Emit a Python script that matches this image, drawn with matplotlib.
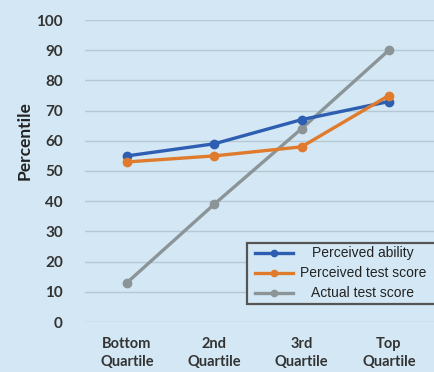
import matplotlib.pyplot as plt
from matplotlib.lines import Line2D
from matplotlib.patches import Rectangle
import numpy as np

quartiles = ['Bottom\nQuartile', '2nd\nQuartile', '3rd\nQuartile', 'Top\nQuartile']
perceived_ability = [55, 59, 67, 73]
perceived_test = [53, 55, 58, 75]
actual_test = [13, 39, 64, 90]
yticks = [0, 10, 20, 30, 40, 50, 60, 70, 80, 90, 100]
series_names = ['Perceived ability', 'Perceived test score', 'Actual test score']

bg = '#D3E8F4'
blue = '#2E5EB2'
orange = '#E07A2C'
gray = '#8B9497'
W, H = 435, 372

fig = plt.figure(figsize=(W / 100, H / 100), dpi=100, facecolor=bg)
ax = fig.add_axes([85 / W, 50 / H, 351 / W, 302 / H], facecolor=bg)

x = np.arange(len(quartiles))
ax.plot(x, actual_test, color=gray, lw=2.4, marker='o', ms=6, zorder=3)
ax.plot(x, perceived_ability, color=blue, lw=2.4, marker='o', ms=6, zorder=4)
ax.plot(x, perceived_test, color=orange, lw=2.4, marker='o', ms=6, zorder=5)

ax.set_xlim(-0.48, 3.54)
ax.set_ylim(0, 100)
ax.set_yticks(yticks)
ax.set_xticks(x)
ax.set_xticklabels(quartiles, fontfamily='Lato', fontweight='bold', fontsize=10.5,
                   color='#333333', linespacing=1.3)
ax.set_yticklabels([str(v) for v in yticks], fontfamily='Lato', fontweight='bold',
                   fontsize=11, color='#333333')
ax.tick_params(length=0, pad=16)
ax.tick_params(axis='x', pad=11)
ax.grid(axis='y', color='#B5C8D4', lw=1)
ax.set_axisbelow(True)
for s in ax.spines.values():
    s.set_visible(False)

ax.set_ylabel('Percentile', fontfamily='Lato', fontweight='bold', fontsize=12.5,
              color='#222222')
ax.yaxis.set_label_coords(-0.15, 0.6)

# legend box drawn by hand so the labels can be centred
def fx(px):
    return px / W

def fy(py):
    return 1 - py / H

fig.add_artist(Rectangle((fx(247), fy(304)), fx(200), 61 / H, transform=fig.transFigure,
                         facecolor=bg, edgecolor='#555555', lw=1.6, zorder=10))
row_y = [253, 273, 293]
for name, col, ry in zip(series_names, [blue, orange, gray], row_y):
    fig.add_artist(Line2D([fx(255), fx(293)], [fy(ry), fy(ry)], transform=fig.transFigure,
                          color=col, lw=2.4, zorder=11))
    fig.add_artist(Line2D([fx(274)], [fy(ry)], transform=fig.transFigure,
                          color=col, marker='o', ms=4.5, zorder=12))
    fig.text(fx(363), fy(ry), name, ha='center', va='center',
             family='Liberation Sans', fontsize=10,
             color='#222222', zorder=13)

fig.savefig('out.png', dpi=100, facecolor=bg)
